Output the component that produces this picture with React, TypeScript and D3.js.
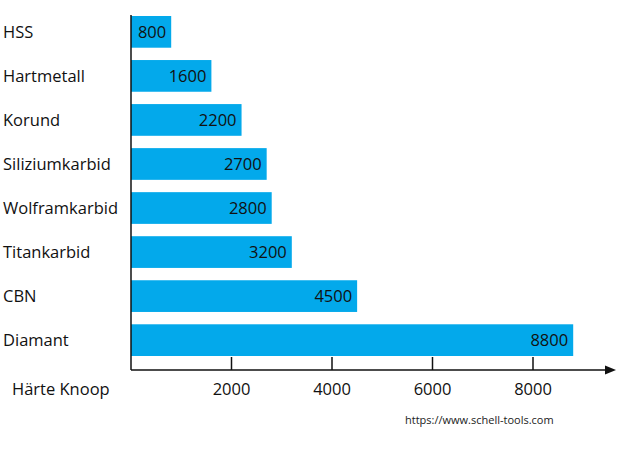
import React from "react";
import * as d3 from "d3";

const materials = [
  "HSS",
  "Hartmetall",
  "Korund",
  "Siliziumkarbid",
  "Wolframkarbid",
  "Titankarbid",
  "CBN",
  "Diamant",
];
const hardness = [800, 1600, 2200, 2700, 2800, 3200, 4500, 8800];
const xTicks = [2000, 4000, 6000, 8000];

const width = 620;
const height = 465;
const axisX = 131;
const axisY = 370;
const font = "'Open Sans', sans-serif";

const App: React.FC = () => {
  const x = d3.scaleLinear().domain([0, 8000]).range([axisX, 533]);
  const y = d3
    .scaleBand<string>()
    .domain(materials)
    .range([16, 356])
    .paddingInner(0.28)
    .paddingOuter(0);

  return (
    <div style={{ position: "fixed", left: 0, top: 0 }}>
      <svg width={width} height={height} style={{ display: "block", background: "#fff" }}>
        {materials.map((m, i) => {
          const y0 = y(m) || 0;
          const cy = y0 + y.bandwidth() / 2;
          return (
            <g key={m}>
              <rect
                x={x(0)}
                y={y0}
                width={x(hardness[i]) - x(0)}
                height={y.bandwidth()}
                fill="#03a9eb"
              />
              <text
                x={x(hardness[i]) - 5}
                y={cy}
                dy="0.35em"
                textAnchor="end"
                fontFamily={font}
                fontSize={16.5}
                fill="#111"
              >
                {hardness[i]}
              </text>
              <text
                x={3}
                y={cy}
                dy="0.35em"
                fontFamily={font}
                fontSize={16.5}
                fill="#111"
              >
                {m}
              </text>
            </g>
          );
        })}

        {/* axes */}
        <line x1={axisX} x2={axisX} y1={15} y2={axisY} stroke="#111" strokeWidth={1.5} />
        <line x1={axisX} x2={607} y1={axisY} y2={axisY} stroke="#111" strokeWidth={1.5} />
        <path d={`M605,${axisY - 4.5}L616,${axisY}L605,${axisY + 4.5}Z`} fill="#111" />
        {xTicks.map((t) => (
          <g key={t}>
            <line x1={x(t)} x2={x(t)} y1={axisY - 13} y2={axisY} stroke="#111" strokeWidth={1.5} />
            <text
              x={x(t)}
              y={395}
              textAnchor="middle"
              fontFamily={font}
              fontSize={16.5}
              fill="#111"
            >
              {t}
            </text>
          </g>
        ))}
        <text x={12} y={395} fontFamily={font} fontSize={16.5} fill="#111">
          Härte Knoop
        </text>
        <text x={405} y={424} fontFamily={font} fontSize={11} fill="#222">
          https://www.schell-tools.com
        </text>
      </svg>
    </div>
  );
};

export default App;
